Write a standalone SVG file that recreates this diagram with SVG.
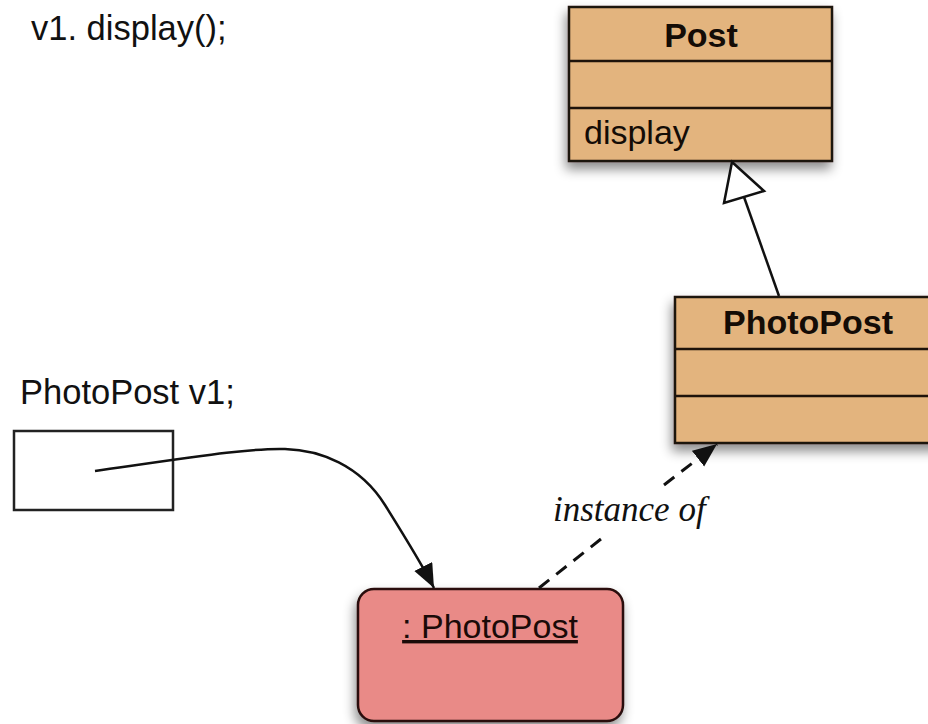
<svg xmlns="http://www.w3.org/2000/svg" width="928" height="724" viewBox="0 0 928 724">
  <style>
    .code { font-family: "Liberation Sans", Arial, sans-serif; font-size: 34.5px; fill: #111; }
    .cls { fill: #E3B47E; stroke: #1e130b; stroke-width: 2.5; }
    .div { stroke: #1e130b; stroke-width: 2.5; }
    .title { font-family: "Liberation Sans", Arial, sans-serif; font-size: 34px; font-weight: bold; fill: #140c06; text-anchor: middle; }
    .member { font-family: "Liberation Sans", Arial, sans-serif; font-size: 34px; fill: #140c06; }
    .obj { fill: #E98A87; stroke: #2a0f0c; stroke-width: 2.5; }
    .objname { font-family: "Liberation Sans", Arial, sans-serif; font-size: 34px; fill: #1a0a08; text-anchor: middle; text-decoration: underline; }
    .label { font-family: "Liberation Serif", "Times New Roman", serif; font-size: 35px; font-style: italic; fill: #111; }
    .conn { fill: none; stroke: #111; stroke-width: 2.5; }
    .dash { stroke-dasharray: 13 9; stroke-width: 3; }
  </style>
  <defs>
    <filter id="shadow" x="-20%" y="-20%" width="140%" height="160%">
      <feDropShadow dx="-2" dy="7" stdDeviation="6" flood-color="#000" flood-opacity="0.45"/>
    </filter>
    <marker id="solidArrow" markerUnits="userSpaceOnUse" markerWidth="28" markerHeight="22" refX="24" refY="10" orient="auto">
      <path d="M0,0 L24,10 L0,20 Z" fill="#111"/>
    </marker>
  </defs>

  <!-- code snippets -->
  <text class="code" x="31" y="40">v1. display();</text>
  <text class="code" x="20" y="404">PhotoPost v1;</text>

  <!-- variable v1 -->
  <g id="var-v1">
    <rect x="14" y="431" width="159" height="79" fill="#fff" stroke="#222" stroke-width="2.5"/>
  </g>

  <!-- class Post -->
  <g id="class-post">
    <rect class="cls" x="569" y="7" width="263" height="154" filter="url(#shadow)"/>
    <line class="div" x1="569" y1="61" x2="832" y2="61"/>
    <line class="div" x1="569" y1="108" x2="832" y2="108"/>
    <text class="title" x="701" y="47">Post</text>
    <text class="member" x="584" y="144">display</text>
  </g>

  <!-- class PhotoPost -->
  <g id="class-photopost">
    <rect class="cls" x="675" y="297" width="270" height="146" filter="url(#shadow)"/>
    <line class="div" x1="675" y1="349" x2="945" y2="349"/>
    <line class="div" x1="675" y1="396" x2="945" y2="396"/>
    <text class="title" x="808" y="334">PhotoPost</text>
  </g>

  <!-- object : PhotoPost -->
  <g id="object-photopost">
    <rect class="obj" x="358" y="589" width="265" height="132" rx="16" ry="16" filter="url(#shadow)"/>
    <text class="objname" x="490" y="638">: PhotoPost</text>
  </g>

  <!-- connectors -->
  <g id="connectors">
    <!-- reference from v1 to the object -->
    <path class="conn" d="M95,471 C200,456 250,448 285,449 S360,465 385,505 S425,570 434,588" marker-end="url(#solidArrow)"/>
    <!-- generalization PhotoPost to Post -->
    <line class="conn" x1="779" y1="296" x2="744" y2="197"/>
    <polygon points="732,162 764,191 724,203" fill="#fff" stroke="#111" stroke-width="2.5" stroke-linejoin="miter"/>
    <!-- instance of (dashed, broken around the label) -->
    <path class="conn dash" d="M539,588 L606,535"/>
    <path class="conn dash" d="M664,485 L717,444" marker-end="url(#solidArrow)"/>
    <text class="label" x="553" y="521">instance of</text>
  </g>
</svg>
